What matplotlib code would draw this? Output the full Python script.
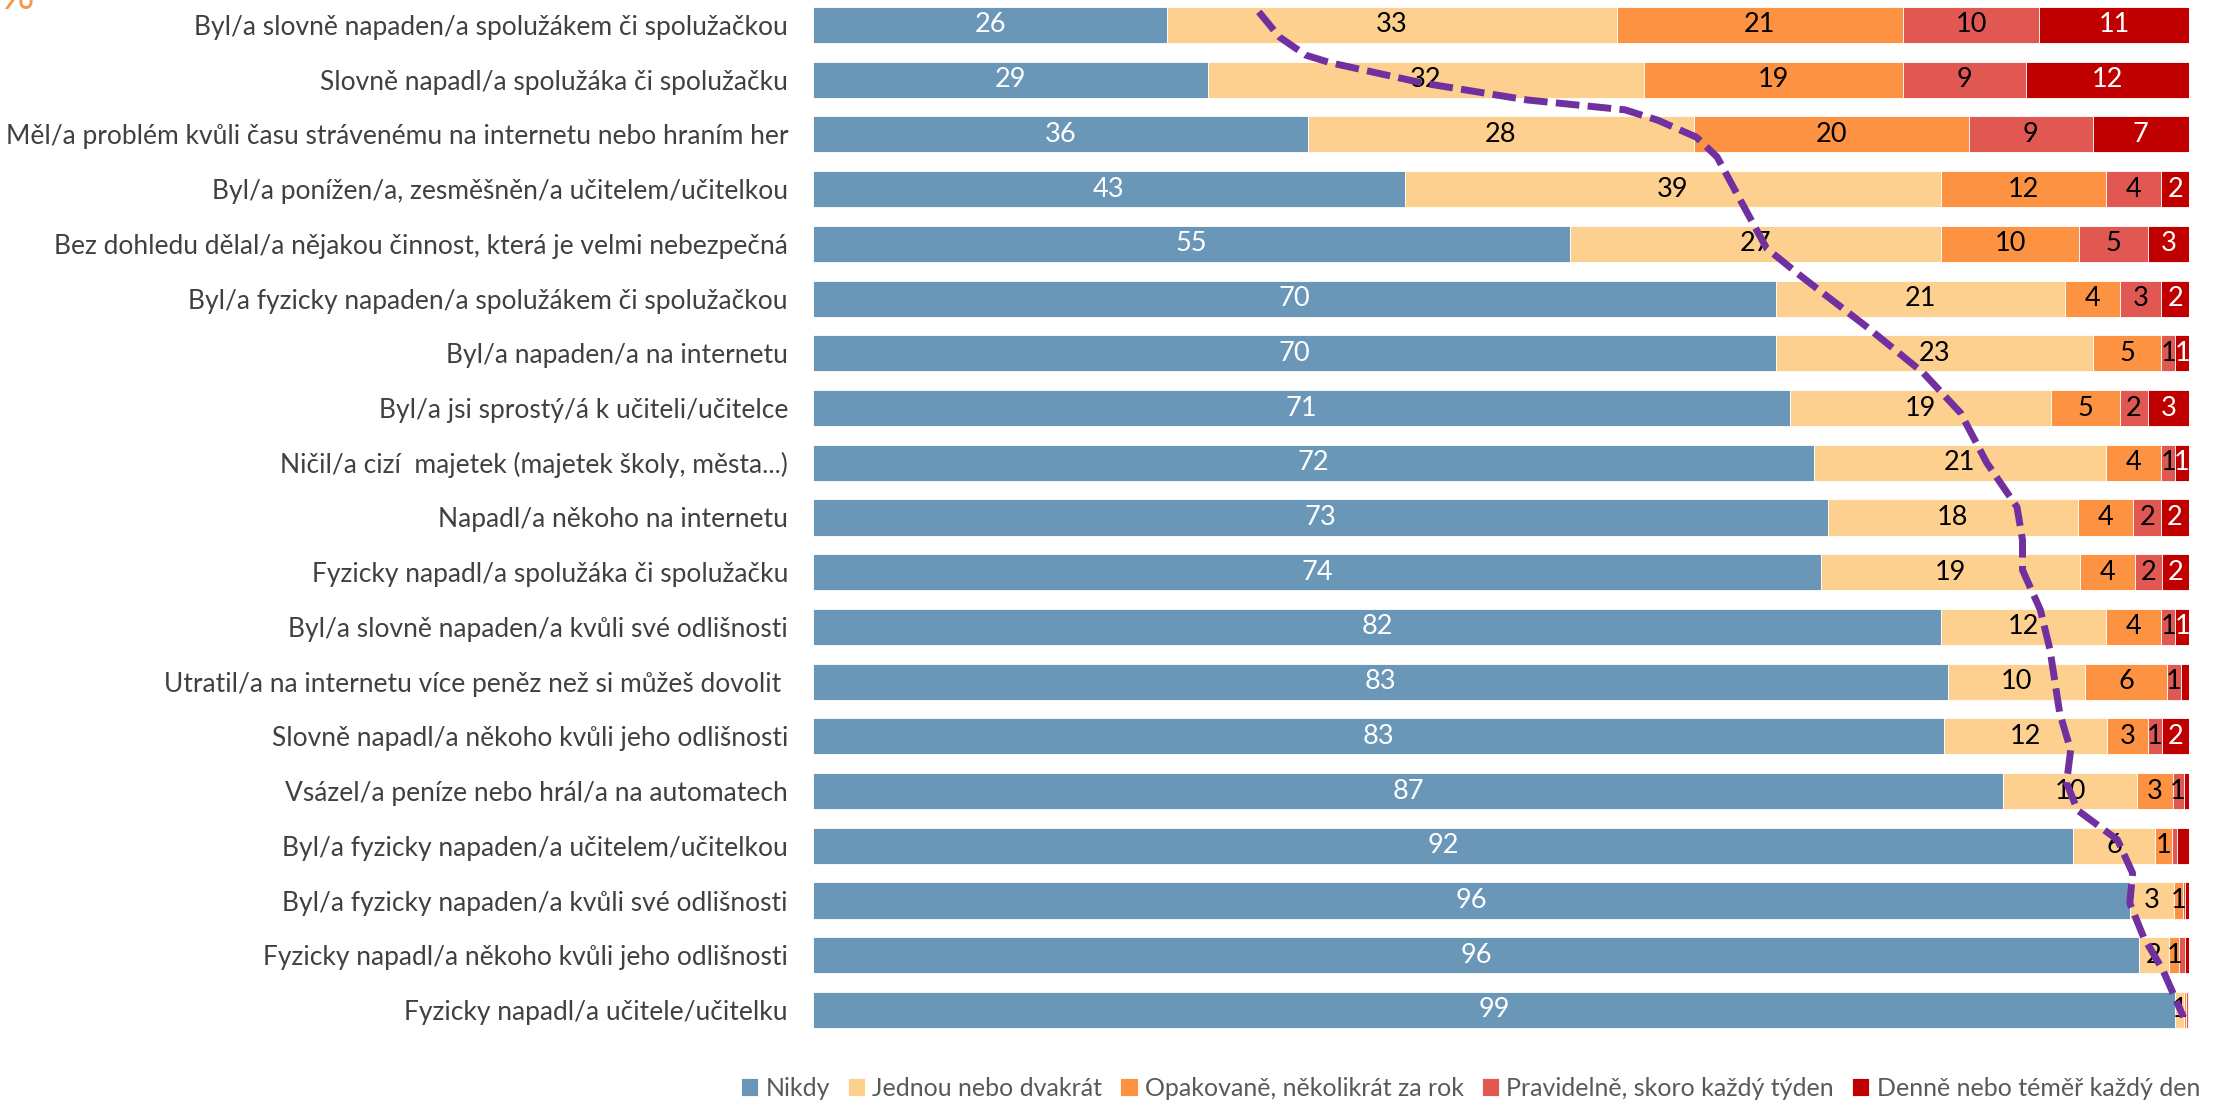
import matplotlib
matplotlib.use("Agg")
import matplotlib.pyplot as plt
import numpy as np

categories = [
    "Byl/a slovně napaden/a spolužákem či spolužačkou",
    "Slovně napadl/a spolužáka či spolužačku",
    "Měl/a problém kvůli času strávenému na internetu nebo hraním her",
    "Byl/a ponížen/a, zesměšněn/a učitelem/učitelkou",
    "Bez dohledu dělal/a nějakou činnost, která je velmi nebezpečná",
    "Byl/a fyzicky napaden/a spolužákem či spolužačkou",
    "Byl/a napaden/a na internetu",
    "Byl/a jsi sprostý/á k učiteli/učitelce",
    "Ničil/a cizí  majetek (majetek školy, města...)",
    "Napadl/a někoho na internetu",
    "Fyzicky napadl/a spolužáka či spolužačku",
    "Byl/a slovně napaden/a kvůli své odlišnosti",
    "Utratil/a na internetu více peněz než si můžeš dovolit ",
    "Slovně napadl/a někoho kvůli jeho odlišnosti",
    "Vsázel/a peníze nebo hrál/a na automatech",
    "Byl/a fyzicky napaden/a učitelem/učitelkou",
    "Byl/a fyzicky napaden/a kvůli své odlišnosti",
    "Fyzicky napadl/a někoho kvůli jeho odlišnosti",
    "Fyzicky napadl/a učitele/učitelku",
]

series_names = [
    "Nikdy",
    "Jednou nebo dvakrát",
    "Opakovaně, několikrát za rok",
    "Pravidelně, skoro každý týden",
    "Denně nebo téměř každý den",
]

nikdy = [26, 29, 36, 43, 55, 70, 70, 71, 72, 73, 74, 82, 83, 83, 86.6, 91.6, 95.7, 96.3, 99.05]
jednou = [33, 32, 28, 39, 27, 21, 23, 19, 21, 18, 19, 12, 10, 12, 9.7, 6.0, 3.2, 2.2, 0.65]
opakovane = [21, 19, 20, 12, 10, 4, 5, 5, 4, 4, 4, 4, 6, 3, 2.6, 1.2, 0.7, 0.75, 0.15]
pravidelne = [10, 9, 9, 4, 5, 3, 1, 2, 1, 2, 2, 1, 1, 1, 0.8, 0.4, 0.1, 0.4, 0.1]
denne = [11, 12, 7, 2, 3, 2, 1, 3, 1, 2, 2, 1, 0.6, 2, 0.4, 0.85, 0.3, 0.3, 0.1]

# hand-drawn divider annotation (x in %, y in row units)
divider_x = [32.4, 33.9, 35.8, 37.6, 44.3, 51.9, 59.0, 61.4, 64.2, 65.7, 67.2, 69.3, 71.7,
             76.6, 80.7, 83.4, 85.3, 87.5, 87.9, 87.9, 89.2, 89.9, 90.6, 91.4, 91.1,
             91.9, 94.8, 95.9, 95.7, 96.7, 98.1, 99.6]
divider_y = [-0.24, 0.22, 0.55, 0.69, 1.06, 1.37, 1.55, 1.74, 2.05, 2.41, 3.11, 4.08, 4.57,
             5.52, 6.36, 7.09, 8.00, 8.81, 9.41, 9.96, 10.69, 11.42, 12.57, 13.25, 13.85,
             14.35, 14.89, 15.50, 16.05, 16.67, 17.27, 18.13]

colors = ["#6A96B8", "#FED08F", "#FD9242", "#E15852", "#C00000"]
text_colors = ["white", "black", "black", "black", "white"]
min_label = [0.5, 0.5, 0.5, 0.5, 1.0]

data = np.array([nikdy, jednou, opakovane, pravidelne, denne], dtype=float)
totals = data.sum(axis=0)
shares = data / totals * 100.0

W, H = 2226, 1101
fig = plt.figure(figsize=(W / 100, H / 100), dpi=100)
ax_left, ax_right = 813 / W, 2189 / W
ax_bottom_px = 1040
ax = fig.add_axes([ax_left, 1 - ax_bottom_px / H, ax_right - ax_left, ax_bottom_px / H])

row_px = 54.72
y = np.arange(len(categories))
left = np.zeros(len(categories))
for i, name in enumerate(series_names):
    ax.barh(y, shares[i], left=left, height=0.66, color=colors[i], label=name,
            edgecolor="white", linewidth=0.6, zorder=2)
    for r in range(len(categories)):
        v = data[i, r]
        lab = int(round(v))
        if lab >= 1 and v >= min_label[i]:
            ax.text(left[r] + shares[i, r] / 2, r, str(lab), ha="center", va="center",
                    color=text_colors[i], fontsize=19.5, family="Lato", zorder=3)
    left += shares[i]

ax.plot(divider_x, divider_y, color="#7030A0", linewidth=5.0, dashes=(3.4, 1.2),
        dash_capstyle="butt", zorder=6, clip_on=False)

ax.set_xlim(0, 100)
ax.set_ylim((ax_bottom_px - 25) / row_px, (0 - 25) / row_px)
ax.set_yticks(y)
ax.set_yticklabels(categories, fontsize=19, color="#404040", family="Lato")
ax.tick_params(axis="y", length=0, pad=18)
ax.set_xticks([])
for s in ax.spines.values():
    s.set_visible(False)

leg = fig.legend(loc="center right", bbox_to_anchor=(2210 / W, 1 - 1088 / H), ncol=5,
                 frameon=False, fontsize=18, handlelength=0.7, handleheight=0.75,
                 handletextpad=0.3, columnspacing=0.7, borderaxespad=0)
for t in leg.get_texts():
    t.set_color("#595959")
    t.set_family("Lato")

fig.text(0 / W, 1 - 9 / H, "%", color="#F79646", fontsize=30, family="Lato",
         ha="left", va="baseline")

fig.savefig("out.png", dpi=100)
